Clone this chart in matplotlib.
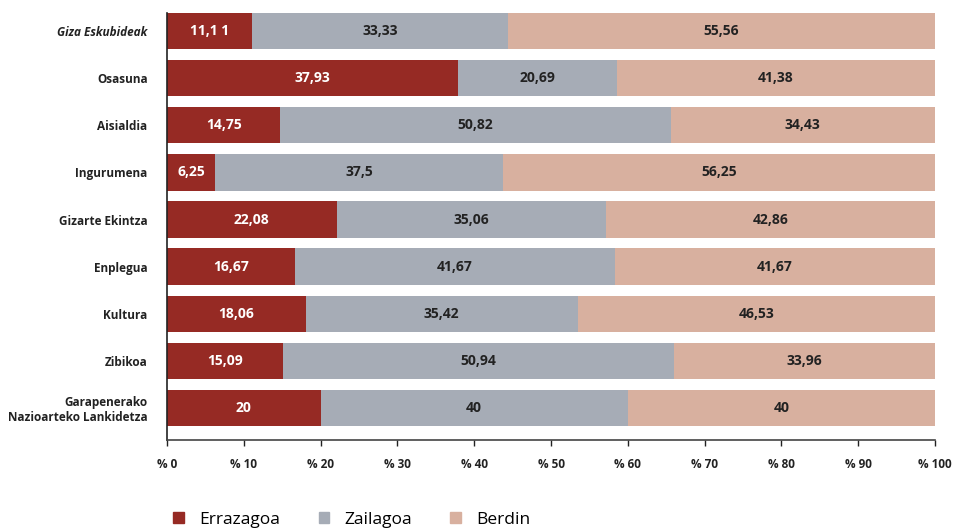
import matplotlib
matplotlib.use("Agg")
import matplotlib.pyplot as plt
from matplotlib.patches import Patch

categories = ["Giza Eskubideak", "Osasuna", "Aisialdia", "Ingurumena", "Gizarte Ekintza",
              "Enplegua", "Kultura", "Zibikoa", "Garapenerako\nNazioarteko Lankidetza"]
errazagoa = [11.11, 37.93, 14.75, 6.25, 22.08, 16.67, 18.06, 15.09, 20]
zailagoa = [33.33, 20.69, 50.82, 37.5, 35.06, 41.67, 35.42, 50.94, 40]
berdin = [55.56, 41.38, 34.43, 56.25, 42.86, 41.67, 46.53, 33.96, 40]
err_labels = ["11,1 1", "37,93", "14,75", "6,25", "22,08", "16,67", "18,06", "15,09", "20"]
zai_labels = ["33,33", "20,69", "50,82", "37,5", "35,06", "41,67", "35,42", "50,94", "40"]
ber_labels = ["55,56", "41,38", "34,43", "56,25", "42,86", "41,67", "46,53", "33,96", "40"]
series_names = ["Errazagoa", "Zailagoa", "Berdin"]
xticks = list(range(0, 101, 10))
xtick_labels = ["% " + str(t) for t in xticks]

colors = ["#962A24", "#A6ACB6", "#D8B09F"]
plt.rcParams['font.family'] = ['Open Sans', 'DejaVu Sans']

fig = plt.figure(figsize=(9.58, 5.30), dpi=100)
ax = fig.add_axes([167/958, 1-440/530, (935-167)/958, 432/530])

y = list(range(len(categories)))
h = 0.77
left = [0]*len(y)
all_vals = [errazagoa, zailagoa, berdin]
all_labels = [err_labels, zai_labels, ber_labels]
for i, (vals, labs) in enumerate(zip(all_vals, all_labels)):
    ax.barh(y, vals, left=left, height=h, color=colors[i], edgecolor='none')
    for j, (v, l) in enumerate(zip(vals, labs)):
        ax.text(left[j] + v/2, y[j], l, ha='center', va='center', fontsize=10,
                fontweight='bold', color='white' if i == 0 else '#222222')
    left = [a + b for a, b in zip(left, vals)]

ax.set_xlim(0, 100)
ax.set_ylim(8.68, -0.49)
ax.set_yticks(y)
ax.set_yticklabels(categories, fontsize=8.5, fontweight='bold', color='#222222',
                   linespacing=1.2)
ax.get_yticklabels()[0].set_fontstyle('italic')
ax.tick_params(axis='y', length=0, pad=14)
ax.set_xticks(xticks)
ax.set_xticklabels(xtick_labels, fontsize=8.5, fontweight='bold', color='#222222')
ax.tick_params(axis='x', direction='out', length=4, width=1, color='#222222', pad=9)
for s in ['top', 'right']:
    ax.spines[s].set_visible(False)
ax.spines['left'].set_bounds(-0.385, 8.68)
ax.spines['left'].set_color('#222222')
ax.spines['bottom'].set_color('#444444')
ax.spines['bottom'].set_linewidth(1.2)
ax.spines['left'].set_linewidth(1.2)

handles = [Patch(color=c, label=n) for c, n in zip(colors, series_names)]
fig.legend(handles=handles, loc='center', bbox_to_anchor=(352/958, 1-520/530), ncol=3,
           frameon=False, fontsize=12.5, handlelength=0.6, handleheight=0.6,
           columnspacing=2.2, handletextpad=0.9)

fig.savefig("out.png", dpi=100)
